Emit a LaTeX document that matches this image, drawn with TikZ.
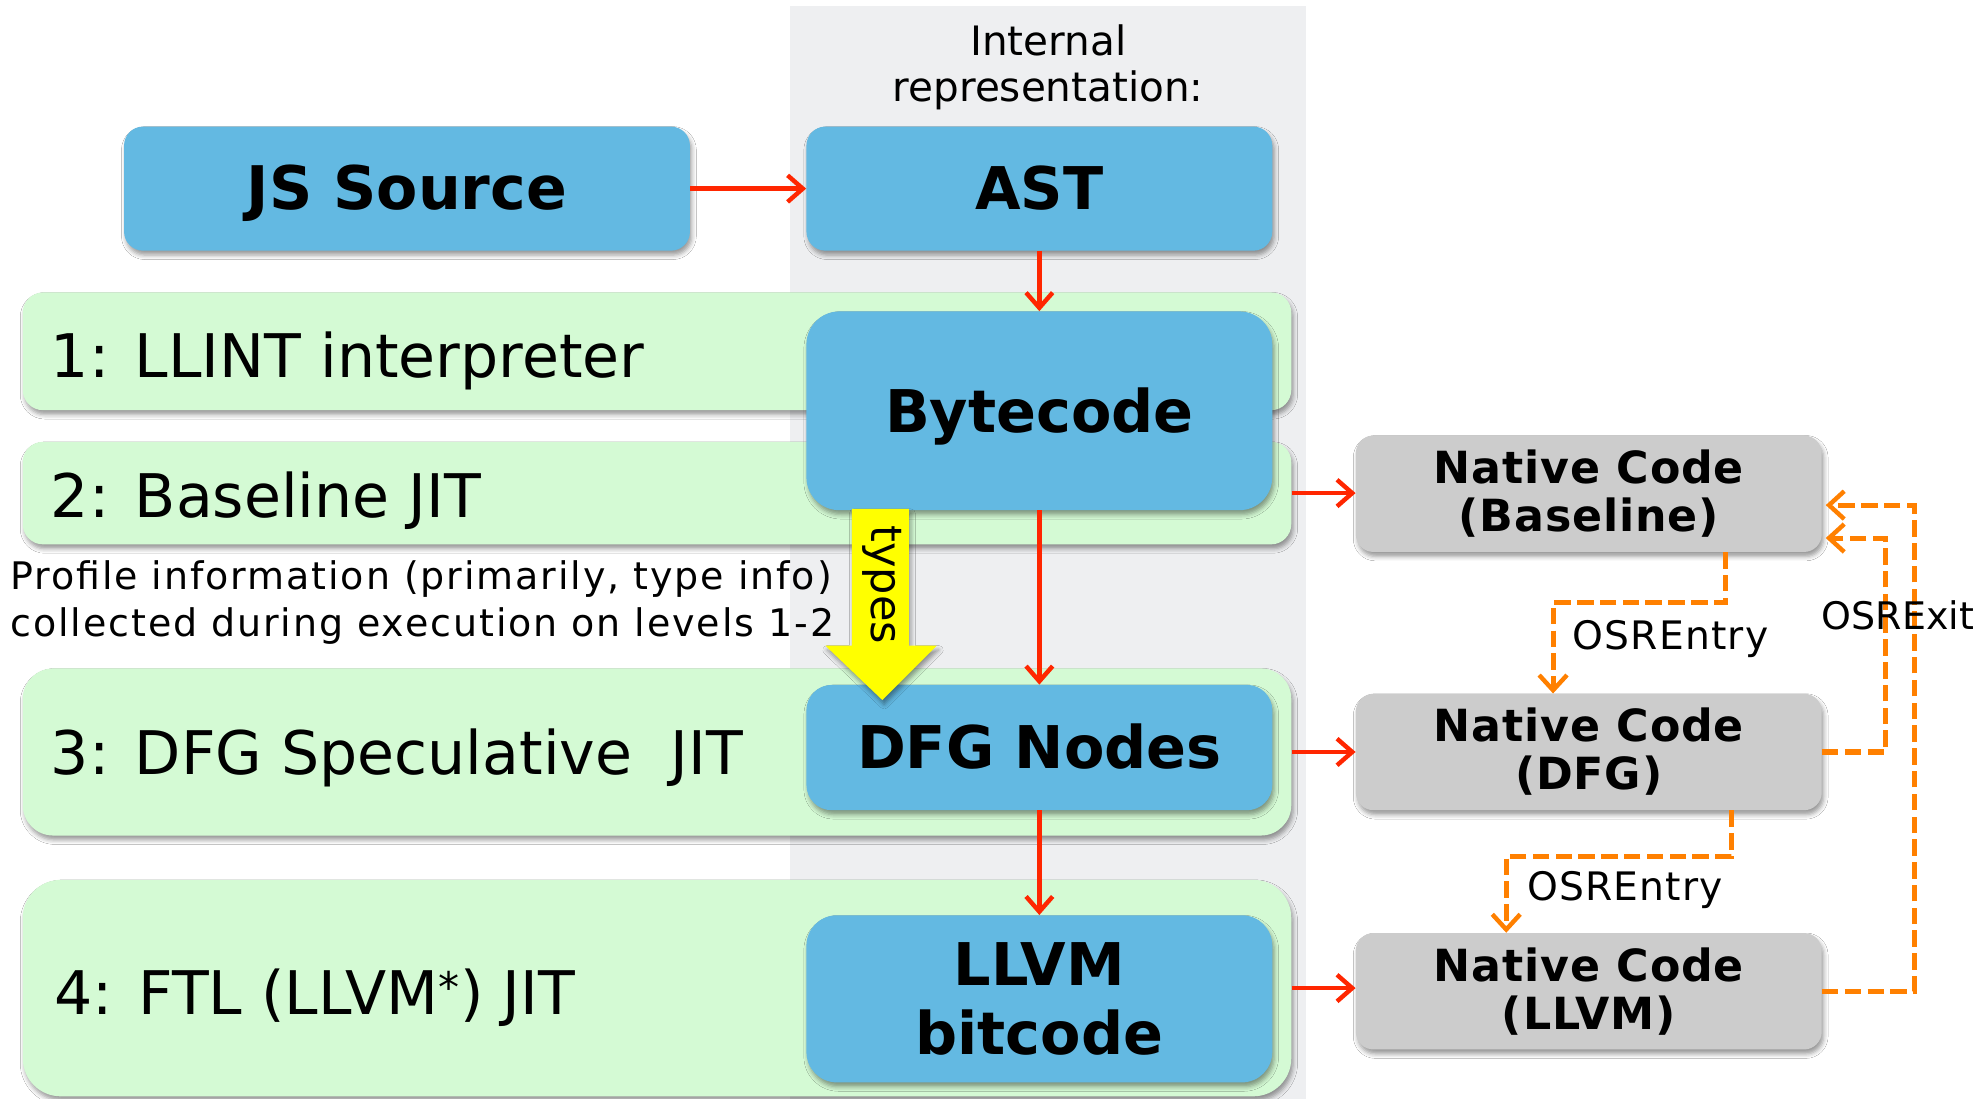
\documentclass[tikz,border=0pt]{standalone}
\usepackage{fontspec}
\setmainfont{DejaVu Sans}
\usetikzlibrary{arrows.meta,shadows.blur}
\definecolor{irblue}{RGB}{99,185,226}
\definecolor{bandgreen}{RGB}{212,250,212}
\definecolor{colgray}{RGB}{238,239,241}
\definecolor{natgray}{RGB}{204,204,204}
\definecolor{redarr}{RGB}{255,38,0}
\definecolor{osrorange}{RGB}{255,128,0}
\definecolor{typeyellow}{RGB}{255,255,0}
\begin{document}
\begin{tikzpicture}[x=1pt,y=-1pt,
  shad/.style={blur shadow={shadow xshift=1.5pt,shadow yshift=-3.5pt,shadow blur radius=3.5pt,shadow opacity=40}},
  colbox/.style={fill=colgray,inner sep=0pt},
  bandbox/.style={fill=bandgreen,rounded corners=16pt,shad,inner sep=0pt,minimum width=1002pt},
  bandtext/.style={anchor=base west,inner sep=0pt,font=\fontsize{47.5}{56}\selectfont},
  irbox/.style={fill=irblue,rounded corners=18pt,shad,inner sep=0pt,align=center,minimum width=368pt,
    font=\fontsize{46.5}{55}\selectfont\bfseries},
  oneline/.style={text height=33.5pt,text depth=0pt},
  natbox/.style={fill=natgray,rounded corners=14pt,shad,inner sep=0pt,align=center,
    minimum width=368pt,minimum height=92pt,
    font=\fontsize{35}{38}\selectfont\bfseries\addfontfeature{LetterSpace=2}},
  redarrow/.style={draw=redarr,line width=3.5pt,-{Straight Barb[length=12pt,width=21pt,line width=3.5pt]}},
  osr/.style={draw=osrorange,line width=4pt,dash pattern=on 13pt off 5pt,
    -{Straight Barb[length=12pt,width=22pt,line width=3.5pt]}},
  osrtext/.style={anchor=base west,inner sep=0pt,font=\fontsize{31}{36}\selectfont\addfontfeature{LetterSpace=3}},
  smalltext/.style={inner sep=0pt,font=\fontsize{32}{36}\selectfont}
]
\useasboundingbox (0,0) rectangle (1568,868);
\fill[white] (0,0) rectangle (1568,868);

% internal representation column
\node[colbox,minimum width=408pt,minimum height=863pt] (col) at (828,436.5) {};
\node[smalltext,align=center] (irlabel) at (828,53) {Internal\\representation:};

% level bands
\node[bandbox,minimum height=93pt] (b1) at (519,277.5) {};
\node[bandbox,minimum height=81pt] (b2) at (519,389.5) {};
\node[bandbox,minimum height=132pt,rounded corners=24pt] (b3) at (519,594) {};
\node[bandbox,minimum height=171pt,rounded corners=30pt] (b4) at (519,780.5) {};
\node[bandtext] (t1) at (40,298) {1: LLINT interpreter};
\node[bandtext] (t2) at (40,409) {2: Baseline JIT};
\node[bandtext] (t3) at (40,612) {3: DFG Speculative\ \ JIT};
\node[bandtext] (t4) at (43,801) {4: FTL (LLVM\textsuperscript{*}) JIT};

% profile text
\node[inner sep=0pt,anchor=west,align=left,
  font=\fontsize{30}{37.5}\selectfont\addfontfeature{LetterSpace=5}] (prof) at (8,476)
  {Profile information (primarily, type info)\\collected during execution on levels 1-2};

% blue IR boxes
\node[irbox,oneline,minimum width=447pt,minimum height=98pt,rounded corners=15pt,
  font=\fontsize{47.5}{55}\selectfont\bfseries] (js) at (321.5,149) {JS Source};
\node[irbox,oneline,minimum height=98pt,rounded corners=15pt] (ast) at (821,149) {AST};
\node[irbox,oneline,minimum height=157pt,rounded corners=26pt] (bc) at (821,324.5) {Bytecode};
\node[irbox,oneline,minimum height=99pt,rounded corners=20pt] (dfg) at (821,590.5) {DFG Nodes};
\node[irbox,minimum height=132pt,rounded corners=24pt] (llvm) at (821,789) {LLVM\\bitcode};

% native code boxes
\node[natbox] (nb) at (1255,390) {Native Code\\(Baseline)};
\node[natbox] (nd) at (1255,594) {Native Code\\(DFG)};
\node[natbox] (nl) at (1255,783) {Native Code\\(LLVM)};

% red arrows
\draw[redarrow] (js) -- (ast);
\draw[redarrow] (ast) -- (bc);
\draw[redarrow] (bc) -- (dfg);
\draw[redarrow] (dfg) -- (llvm);
\draw[redarrow] (b2.east) -- (b2.east -| nb.west);
\draw[redarrow] (b3.east) -- (b3.east -| nd.west);
\draw[redarrow] (b4.east) -- (b4.east -| nl.west);

% types arrow
\path[fill=typeyellow,shad] (673,402) -- (718,402) -- (718,510) -- (740,510) -- (697,553)
  -- (652,510) -- (673,510) -- cycle;
\node[rotate=-90,inner sep=0pt,font=\fontsize{34}{40}\selectfont] (types) at (697,462) {types};

% OSR connectors
\draw[osr] ([xshift=292pt]nb.south west) -- ++(0,40) -| ([xshift=156pt]nd.north west);
\draw[osr] ([xshift=297pt]nd.south west) -- ++(0,36) -| ([xshift=119pt]nl.north west);
\draw[osr] (nd.east) -- ++(50,0) |- ([yshift=-35pt,xshift=3pt]nb.east);
\draw[osr] (nl.east) -- ++(73,0) |- ([yshift=-9pt,xshift=3pt]nb.east);
\node[osrtext] (e1) at (1242,513) {OSREntry};
\node[osrtext] (e2) at (1206,711) {OSREntry};
\node[osrtext,font=\fontsize{30}{36}\selectfont] (x1) at (1439,497) {OSRExit};
\end{tikzpicture}
\end{document}
